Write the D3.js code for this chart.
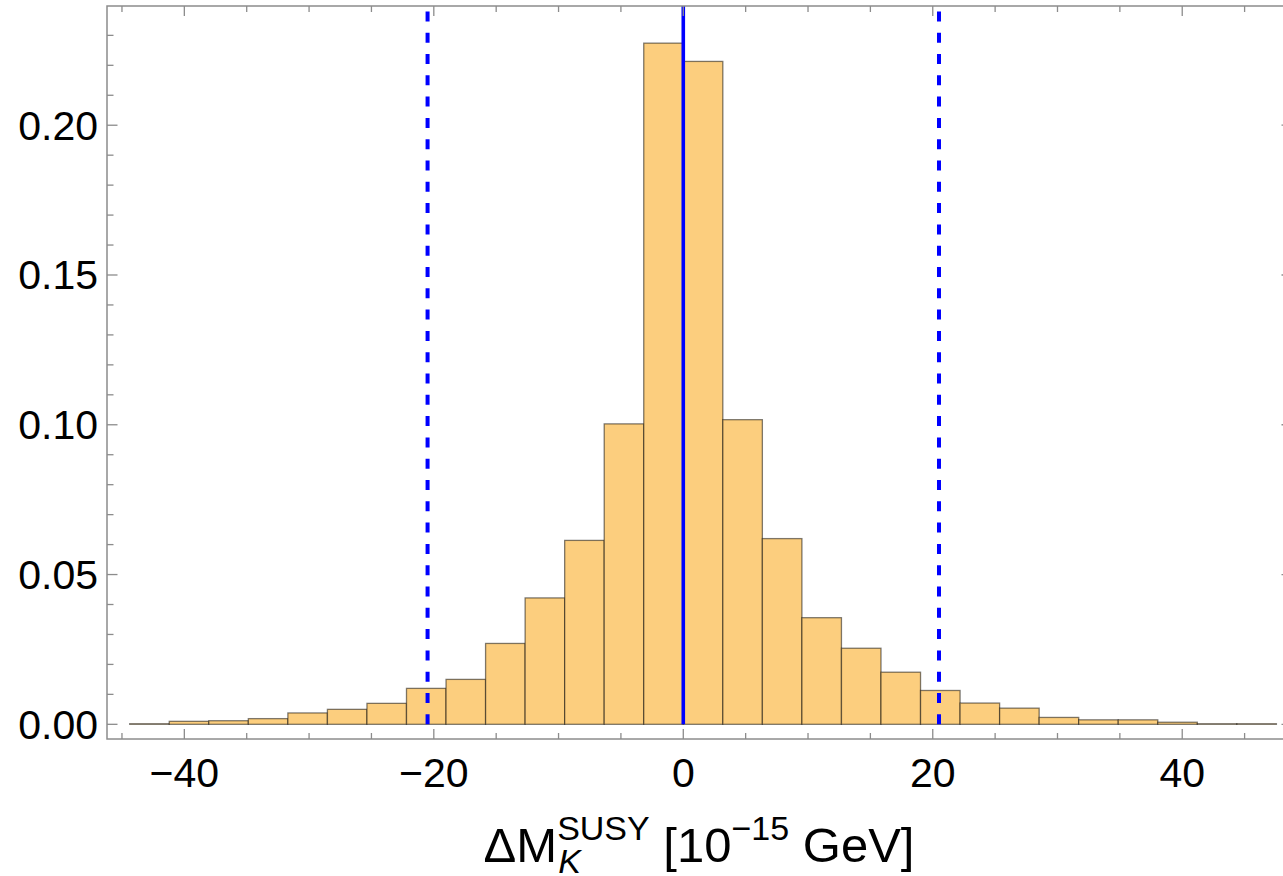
<!DOCTYPE html>
<html>
<head>
<meta charset="utf-8">
<script src="https://cdn.jsdelivr.net/npm/d3@7"></script>
<style>
	body { margin: 0; background: #fff; }
	text { font-family: 'Liberation Sans', Arial, sans-serif; fill: #000; }
</style>
</head>
<body>
<div id="chart-div"></div>
<script>
const WIDTH = 1283;
const HEIGHT = 876;

// histogram: first bin edge, bin width, normalised frequencies
const binStart = -44.38;
const binWidth = 3.17;
const frequencies = [
	0.0002, 0.0010, 0.0012, 0.0019, 0.0038, 0.0050, 0.0070, 0.0120, 0.0150, 0.0270,
	0.0422, 0.0614, 0.1003, 0.2274, 0.2213, 0.1017, 0.0620, 0.0356, 0.0254, 0.0174,
	0.0113, 0.0071, 0.0054, 0.0023, 0.0015, 0.0015, 0.0007, 0.0002, 0.0002
];

// vertical markers
const centerLine = [0];
const boundLines = [-20.5, 20.5];

// ticks
const xMajorTicks = [-40, -20, 0, 20, 40];
const xMinorTicks = [-45, -35, -30, -25, -15, -10, -5, 5, 10, 15, 25, 30, 35, 45];
const yMajorTicks = [0, 0.05, 0.10, 0.15, 0.20];
const yMinorTicks = [0.01, 0.02, 0.03, 0.04, 0.06, 0.07, 0.08, 0.09, 0.11, 0.12, 0.13, 0.14,
	0.16, 0.17, 0.18, 0.19, 0.21, 0.22, 0.23];

const FRAME = { left: 107, right: 1292, top: 6, bottom: 739 };
const FRAME_COLOR = '#8c8c8c';

const x = d3.scaleLinear().domain([-46.2, 48.8]).range([FRAME.left, FRAME.right]);
const y = d3.scaleLinear().domain([-0.0049, 0.2398]).range([FRAME.bottom, FRAME.top]);

const bins = frequencies.map((f, i) => ({
	x0: binStart + i * binWidth,
	x1: binStart + (i + 1) * binWidth,
	f: f,
}));

const svg = d3.select('#chart-div')
	.append('svg')
	.attr('width', WIDTH)
	.attr('height', HEIGHT);

svg.append('clipPath').attr('id', 'plot-clip')
	.append('rect')
	.attr('x', FRAME.left).attr('y', FRAME.top)
	.attr('width', FRAME.right - FRAME.left).attr('height', FRAME.bottom - FRAME.top);

const plot = svg.append('g').attr('clip-path', 'url(#plot-clip)');

// Bars
plot.selectAll('.bar')
	.data(bins)
	.join('rect')
	.attr('class', 'bar')
	.attr('x', (d) => x(d.x0))
	.attr('width', (d) => x(d.x1) - x(d.x0))
	.attr('y', (d) => y(d.f))
	.attr('height', (d) => y(0) - y(d.f))
	.attr('fill', '#fcce7e')
	.attr('stroke', '#000')
	.attr('stroke-opacity', 0.5)
	.attr('stroke-width', 1.3);

// Dashed bounds
plot.selectAll('.bound')
	.data(boundLines)
	.join('line')
	.attr('class', 'bound')
	.attr('x1', (d) => x(d)).attr('x2', (d) => x(d))
	.attr('y1', y(0)).attr('y2', FRAME.top)
	.attr('stroke', '#0000ff')
	.attr('stroke-width', 4)
	.attr('stroke-dasharray', '10,11.3');

// Central line
plot.selectAll('.center')
	.data(centerLine)
	.join('line')
	.attr('class', 'center')
	.attr('x1', (d) => x(d)).attr('x2', (d) => x(d))
	.attr('y1', y(0)).attr('y2', FRAME.top)
	.attr('stroke', '#0000ff')
	.attr('stroke-width', 3.6);

// Frame
svg.append('rect')
	.attr('x', FRAME.left).attr('y', FRAME.top)
	.attr('width', FRAME.right - FRAME.left).attr('height', FRAME.bottom - FRAME.top)
	.attr('fill', 'none')
	.attr('stroke', FRAME_COLOR)
	.attr('stroke-width', 1.5);

// Frame ticks, on all four sides, pointing inwards
function xTicks(values, len) {
	[[FRAME.bottom, -1], [FRAME.top, 1]].forEach(([y0, dir]) => {
		svg.append('g').selectAll('line')
			.data(values)
			.join('line')
			.attr('x1', (d) => x(d)).attr('x2', (d) => x(d))
			.attr('y1', y0).attr('y2', y0 + dir * len)
			.attr('stroke', FRAME_COLOR)
			.attr('stroke-width', 1.3);
	});
}
function yTicks(values, len) {
	[[FRAME.left, 1], [FRAME.right, -1]].forEach(([x0, dir]) => {
		svg.append('g').selectAll('line')
			.data(values)
			.join('line')
			.attr('y1', (d) => y(d)).attr('y2', (d) => y(d))
			.attr('x1', x0).attr('x2', x0 + dir * len)
			.attr('stroke', FRAME_COLOR)
			.attr('stroke-width', 1.3);
	});
}
xTicks(xMajorTicks, 10);
xTicks(xMinorTicks, 6);
yTicks(yMajorTicks, 10.5);
yTicks(yMinorTicks, 6.5);

// Tick labels
const minus = (s) => s.replace('-', '\u2212');

svg.append('g').selectAll('text')
	.data(xMajorTicks)
	.join('text')
	.attr('x', (d) => x(d))
	.attr('y', 787)
	.attr('text-anchor', 'middle')
	.attr('font-size', 41)
	.text((d) => minus(String(d)));

svg.append('g').selectAll('text')
	.data(yMajorTicks)
	.join('text')
	.attr('x', 98)
	.attr('y', (d) => y(d) + 14.5)
	.attr('text-anchor', 'end')
	.attr('font-size', 41)
	.text((d) => d3.format('.2f')(d));

// Axis label: ΔM_K^SUSY [10^-15 GeV]
const BASE = 862;
const label = svg.append('g');
const main = label.append('text').attr('y', BASE).attr('font-size', 49);
main.append('tspan').text('\u0394M');
main.append('tspan').attr('font-size', 34).attr('dy', -22).text('SUSY');
main.append('tspan').attr('dy', 22).text(' [10');
main.append('tspan').attr('font-size', 34).attr('dy', -22).text('\u221215');
main.append('tspan').attr('dy', 22).text(' GeV]');

const dmWidth = main.select('tspan').node().getComputedTextLength();
label.append('text')
	.attr('x', dmWidth + 1)
	.attr('y', BASE + 11)
	.attr('font-size', 34)
	.attr('font-style', 'italic')
	.text('K');

const labelWidth = main.node().getComputedTextLength();
label.attr('transform', `translate(${699 - labelWidth / 2},0)`);
</script>
</body>
</html>
